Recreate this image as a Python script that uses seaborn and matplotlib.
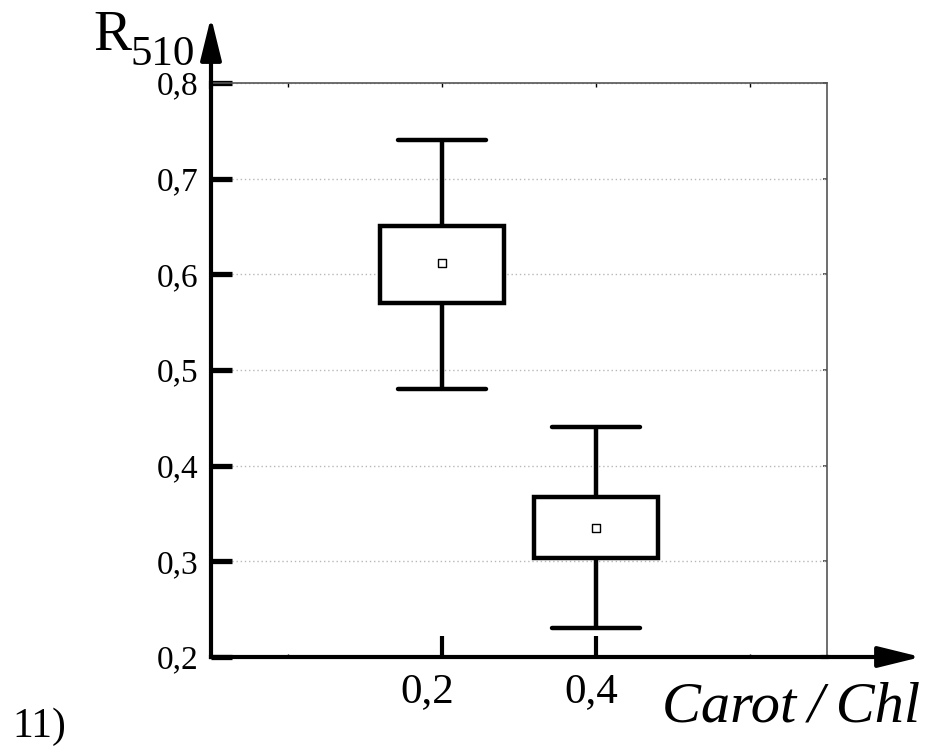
import numpy as np
import pandas as pd
import matplotlib
matplotlib.use("Agg")
import matplotlib.pyplot as plt
import matplotlib.transforms as mtransforms
import seaborn as sns

sns.set_style("white")
plt.rcParams['font.family'] = ['Liberation Serif', 'DejaVu Serif']
plt.rcParams['text.color'] = 'black'
plt.rcParams['xtick.color'] = 'black'
plt.rcParams['ytick.color'] = 'black'

# box statistics
ratio = [0.2, 0.4]            # Carot/Chl
r_low = [0.48, 0.23]          # lower whisker
r_q1 = [0.57, 0.303]          # box bottom
r_q3 = [0.65, 0.367]          # box top
r_high = [0.74, 0.44]         # upper whisker
r_mean = [0.612, 0.335]       # mean marker

y_ticks = [0.2, 0.3, 0.4, 0.5, 0.6, 0.7, 0.8]
y_labels = ['0,2', '0,3', '0,4', '0,5', '0,6', '0,7', '0,8']
x_ticks = [0.2, 0.4]
x_labels = ['0,2', '0,4']
x_minor = [0.0, 0.6]

# five-number rows so seaborn reproduces the box exactly
rows = []
for x, lo, q1, m, q3, hi in zip(ratio, r_low, r_q1, r_mean, r_q3, r_high):
    for v in (lo, q1, m, q3, hi):
        rows.append((x, v))
df = pd.DataFrame(rows, columns=['ratio', 'R510'])

W, H = 928, 753
fig = plt.figure(figsize=(W / 100, H / 100), dpi=100)
ax = fig.add_axes([211 / W, 1 - 657 / H, (827 - 211) / W, (657 - 83) / H])

sns.boxplot(data=df, x='ratio', y='R510', native_scale=True, orient='x',
            width=0.8, whis=(0, 100), showfliers=False, color='white',
            linecolor='black', linewidth=3.2, capwidths=0.115,
            medianprops=dict(linewidth=0), ax=ax, zorder=3)
sns.scatterplot(x=ratio, y=r_mean, marker='s', s=28, color='white',
                edgecolor='black', linewidth=1, ax=ax, zorder=6)

ax.set_xlim(-0.1, 0.7)
ax.set_ylim(0.2, 0.8)
ax.set_xlabel('')
ax.set_ylabel('')

ax.set_axisbelow(True)
ax.yaxis.grid(True, linestyle=(0, (1, 2)), color='#b8b8b8', linewidth=1)
ax.xaxis.grid(False)

ax.set_yticks(y_ticks)
ax.set_yticklabels(y_labels, fontsize=24)
ax.set_xticks(x_ticks)
ax.set_xticklabels(x_labels, fontsize=31)
ax.set_xticks(x_minor, minor=True)
ax.tick_params(axis='y', direction='in', length=15, width=3.8, pad=9,
               left=True, right=False, color='black')
ax.tick_params(axis='x', which='major', direction='in', length=15, width=3,
               pad=11, bottom=True, top=False, color='black')
ax.tick_params(axis='x', which='minor', direction='in', length=2, width=1,
               bottom=True, top=False)

# the x labels sit slightly left of their ticks in the original
for lab, dx in zip(ax.get_xticklabels(), [-15, -5]):
    lab.set_transform(lab.get_transform() +
                      mtransforms.ScaledTranslation(dx / 100, 0, fig.dpi_scale_trans))

for side in ['top', 'right']:
    ax.spines[side].set_color('#555555')
    ax.spines[side].set_linewidth(1.2)
for side in ['left', 'bottom']:
    ax.spines[side].set_color('black')
    ax.spines[side].set_linewidth(3)

# small inner ticks on the top and right frame
top = ax.secondary_xaxis('top')
top.set_xticks([0.0, 0.2, 0.4, 0.6])
top.tick_params(direction='in', length=3, width=1, labeltop=False, color='black')
top.spines['top'].set_visible(False)
right = ax.secondary_yaxis('right')
right.set_yticks(y_ticks)
right.tick_params(direction='in', length=3, width=1.2, labelright=False, color='#444444')
right.spines['right'].set_visible(False)

# arrowed axes
ax.annotate('', xy=(0, 1 + 66 / 574), xytext=(0, 0.99), xycoords='axes fraction',
            arrowprops=dict(arrowstyle='-|>,head_length=1.3,head_width=0.32',
                            lw=3, color='black', mutation_scale=20,
                            shrinkA=0, shrinkB=0), annotation_clip=False)
ax.annotate('', xy=(1 + 94 / 616, 0), xytext=(0.99, 0), xycoords='axes fraction',
            arrowprops=dict(arrowstyle='-|>,head_length=1.3,head_width=0.32',
                            lw=3, color='black', mutation_scale=20,
                            shrinkA=0, shrinkB=0), annotation_clip=False)

fig.text(93 / W, 1 - 50 / H, 'R', fontsize=41, va='baseline', ha='left')
fig.text(130 / W, 1 - 65 / H, '510', fontsize=31, va='baseline', ha='left')
fig.text(662 / W, 1 - 722 / H, 'Carot\u2009/\u2009Chl', fontsize=42, style='italic',
         va='baseline', ha='left')
fig.text(12 / W, 1 - 737 / H, '11)', fontsize=30, va='baseline', ha='left')

fig.savefig('out.png', dpi=100)
